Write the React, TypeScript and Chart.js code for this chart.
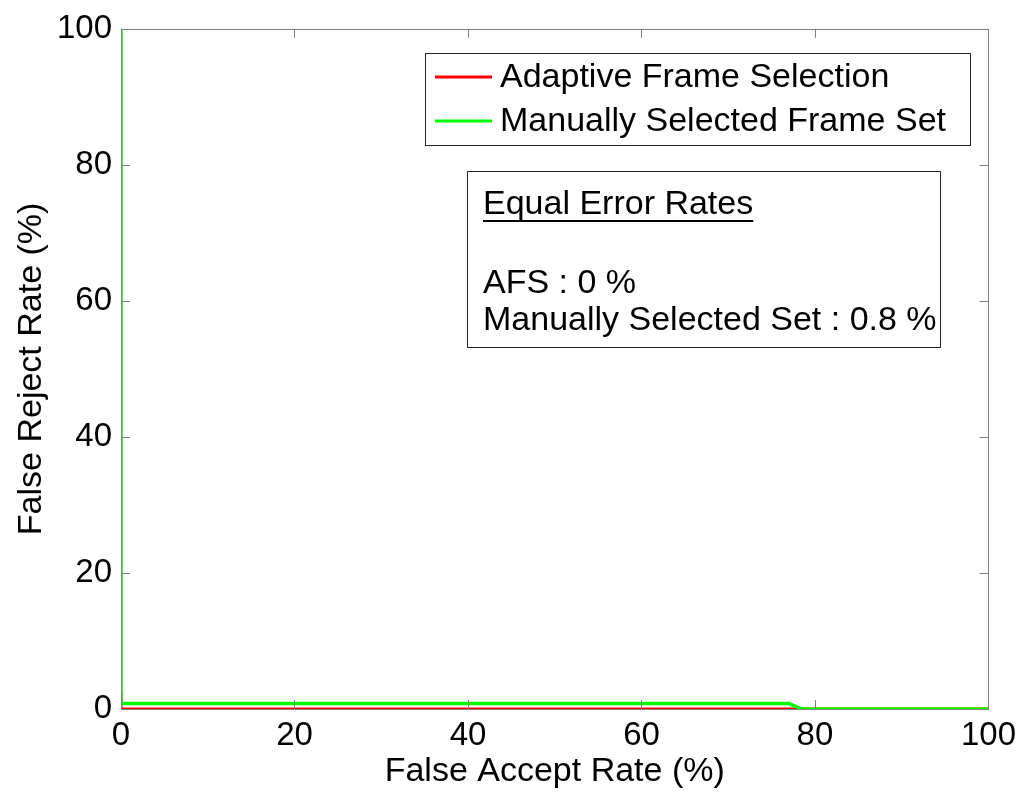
import { useEffect, useRef } from "react";
import { Chart, registerables } from "chart.js";

Chart.register(...registerables);

// ROC-style error curves (values in %)
const afsX = [0, 0, 100];
const afsY = [2.3, 0, 0];
const manualX = [0, 0, 77, 78.5, 100];
const manualY = [100, 0.8, 0.8, 0, 0];

const seriesLabels = ["Adaptive Frame Selection", "Manually Selected Frame Set"];
const seriesColors = ["#ff0000", "#00ff00"];

const xTicks = [0, 20, 40, 60, 80, 100];
const yTicks = [0, 20, 40, 60, 80, 100];

const eerHeading = "Equal Error Rates";
const eerLines = ["AFS : 0 %", "Manually Selected Set : 0.8 %"];

const FONT = "'Liberation Sans', Arial, Helvetica, sans-serif";
const TICK_SIZE = 33;
const TEXT_SIZE = 34;

const toPoints = (xs: number[], ys: number[]) => xs.map((x, i) => ({ x, y: ys[i] }));

// Box around the axes with inward tick marks on all four sides
const framePlugin = {
  id: "frame",
  afterDatasetsDraw(chart: any) {
    const { ctx, chartArea: a, scales } = chart;
    const len = 9;
    ctx.save();
    ctx.strokeStyle = "#7f7f7f";
    ctx.lineWidth = 1;
    ctx.beginPath();
    xTicks.forEach((v) => {
      const px = Math.round(scales.x.getPixelForValue(v)) + 0.5;
      ctx.moveTo(px, a.bottom);
      ctx.lineTo(px, a.bottom - len);
      ctx.moveTo(px, a.top);
      ctx.lineTo(px, a.top + len);
    });
    yTicks.forEach((v) => {
      const py = Math.round(scales.y.getPixelForValue(v)) + 0.5;
      ctx.moveTo(a.left, py);
      ctx.lineTo(a.left + len, py);
      ctx.moveTo(a.right, py);
      ctx.lineTo(a.right - len, py);
    });
    ctx.stroke();
    ctx.strokeRect(Math.round(a.left) + 0.5, Math.round(a.top) + 0.5, Math.round(a.right - a.left), Math.round(a.bottom - a.top));
    ctx.restore();
  },
};

// Legend box and the equal-error-rate note
const notesPlugin = {
  id: "notes",
  afterDraw(chart: any) {
    const { ctx } = chart;
    ctx.save();
    ctx.font = `${TEXT_SIZE}px ${FONT}`;
    ctx.textBaseline = "middle";
    ctx.textAlign = "left";

    // legend
    ctx.fillStyle = "#ffffff";
    ctx.fillRect(425, 53, 545, 92);
    ctx.strokeStyle = "#262626";
    ctx.lineWidth = 1;
    ctx.strokeRect(425.5, 53.5, 545, 92);
    const rows = [77, 121];
    chart.data.datasets.forEach((ds: any, i: number) => {
      ctx.strokeStyle = ds.borderColor;
      ctx.lineWidth = 3;
      ctx.beginPath();
      ctx.moveTo(435, rows[i]);
      ctx.lineTo(492, rows[i]);
      ctx.stroke();
      ctx.fillStyle = "#000000";
      ctx.fillText(ds.label, 500, rows[i] + 1);
    });

    // equal error rates
    ctx.fillStyle = "#ffffff";
    ctx.fillRect(467, 171, 473, 176);
    ctx.strokeStyle = "#262626";
    ctx.lineWidth = 1;
    ctx.strokeRect(467.5, 171.5, 473, 176);
    ctx.fillStyle = "#000000";
    ctx.fillText(eerHeading, 483, 205);
    const w = ctx.measureText(eerHeading).width;
    ctx.fillRect(483, 220, w, 2);
    ctx.fillText(eerLines[0], 483, 284);
    ctx.fillText(eerLines[1], 483, 321);
    ctx.restore();
  },
};

export default function App() {
  const ref = useRef<HTMLCanvasElement | null>(null);

  useEffect(() => {
    if (!ref.current) return;
    const chart = new Chart(ref.current, {
      type: "scatter",
      data: {
        datasets: [
          {
            label: seriesLabels[0],
            data: toPoints(afsX, afsY),
            showLine: true,
            borderColor: seriesColors[0],
            backgroundColor: seriesColors[0],
            borderWidth: 3,
            pointRadius: 0,
            tension: 0,
            order: 1,
          },
          {
            label: seriesLabels[1],
            data: toPoints(manualX, manualY),
            showLine: true,
            borderColor: seriesColors[1],
            backgroundColor: seriesColors[1],
            borderWidth: 3.5,
            pointRadius: 0,
            tension: 0,
            order: 0,
          },
        ],
      },
      options: {
        animation: false,
        responsive: false,
        devicePixelRatio: 1,
        layout: { padding: { top: 26, right: 34, left: 0, bottom: 0 } },
        plugins: {
          legend: { display: false },
          tooltip: { enabled: false },
        },
        scales: {
          x: {
            type: "linear",
            min: 0,
            max: 100,
            afterBuildTicks: (s: any) => {
              s.ticks = xTicks.map((v) => ({ value: v }));
            },
            afterFit: (s: any) => {
              s.height = 86;
            },
            grid: { display: false, drawTicks: false },
            border: { display: false },
            ticks: {
              color: "#000000",
              font: { family: FONT, size: TICK_SIZE },
              padding: 7,
              maxRotation: 0,
            },
            title: {
              display: true,
              text: "False Accept Rate (%)",
              color: "#000000",
              font: { family: FONT, size: TEXT_SIZE },
              padding: { top: 0, bottom: 3 },
            },
          },
          y: {
            type: "linear",
            min: 0,
            max: 100,
            afterBuildTicks: (s: any) => {
              s.ticks = yTicks.map((v) => ({ value: v }));
            },
            afterFit: (s: any) => {
              s.width = 121;
            },
            grid: { display: false, drawTicks: false },
            border: { display: false },
            ticks: {
              color: "#000000",
              font: { family: FONT, size: TICK_SIZE },
              padding: 9,
            },
            title: {
              display: true,
              text: "False Reject Rate (%)",
              color: "#000000",
              font: { family: FONT, size: TEXT_SIZE },
              padding: { top: 11, bottom: 0 },
            },
          },
        },
      },
      plugins: [framePlugin, notesPlugin],
    });
    return () => chart.destroy();
  }, []);

  return (
    <div style={{ position: "absolute", left: 0, top: 0, width: 1023, height: 795, background: "#ffffff" }}>
      <canvas ref={ref} width={1023} height={795} style={{ display: "block" }} />
    </div>
  );
}
